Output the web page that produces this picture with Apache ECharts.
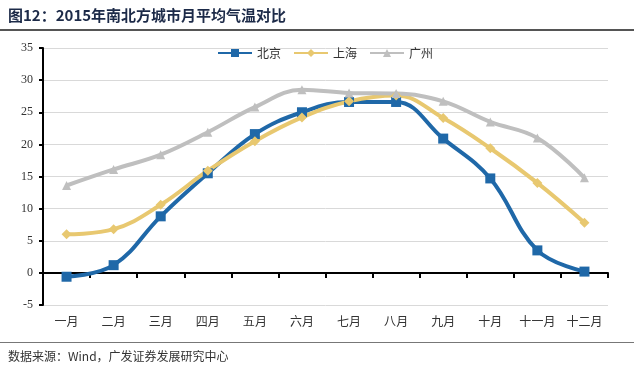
<!DOCTYPE html>
<html>
<head>
<meta charset="utf-8">
<script src="https://cdn.jsdelivr.net/npm/echarts@6/dist/echarts.min.js"></script>
<style>
  html, body { margin: 0; padding: 0; background: #fff; }
  #wrap { position: relative; width: 640px; height: 376px; }
  #title { position: absolute; left: 8px; top: 4px; font: bold 15px "Noto Sans CJK SC", sans-serif; color: #1c2a48; }
  #topLine { position: absolute; left: 0; top: 29px; width: 634px; height: 2px; background: #555; }
  #botLine { position: absolute; left: 0; top: 342px; width: 634px; height: 1px; background: #777; }
  #source { position: absolute; left: 8px; top: 347px; font: 12px "Noto Sans CJK SC", sans-serif; color: #333; }
  #chart { position: absolute; left: 0; top: 0; width: 640px; height: 376px; }
</style>
</head>
<body>
<div id="wrap">
  <div id="chart"></div>
  <div id="title">图12：2015年南北方城市月平均气温对比</div>
  <div id="topLine"></div>
  <div id="botLine"></div>
  <div id="source">数据来源：Wind，广发证券发展研究中心</div>
</div>
<script>
// 月份
const months = ['一月', '二月', '三月', '四月', '五月', '六月', '七月', '八月', '九月', '十月', '十一月', '十二月']
// 各城市月平均气温
const beijing = [-0.6, 1.2, 8.8, 15.5, 21.6, 25.0, 26.6, 26.6, 20.9, 14.7, 3.5, 0.2]
const shanghai = [6.0, 6.8, 10.6, 15.9, 20.5, 24.2, 26.7, 27.6, 24.1, 19.4, 14.0, 7.8]
const guangzhou = [13.6, 16.1, 18.4, 21.9, 25.8, 28.5, 28.0, 27.9, 26.7, 23.5, 21.0, 14.8]
// 纵轴刻度
const yTicks = [-5, 0, 5, 10, 15, 20, 25, 30, 35]

const myChart = echarts.init(document.getElementById('chart'))
const serifFont = '"Liberation Serif", "DejaVu Serif", serif'
const cjkFont = '"Noto Sans CJK SC", sans-serif'

const lineSeries = (name, data, color, symbol, size) => ({
  name: name,
  type: 'line',
  data: data,
  smooth: 0.4,
  symbol: symbol,
  symbolSize: size,
  color: color,
  lineStyle: { width: 4, color: color },
  itemStyle: { color: color }
})

const option = {
  animation: false,
  legend: {
    top: 42,
    left: 212,
    itemWidth: 34,
    itemHeight: 10,
    itemGap: 12,
    textStyle: { fontFamily: cjkFont, fontSize: 12, color: '#333' },
    data: ['北京', '上海', '广州']
  },
  grid: {
    left: 43,
    right: 32,
    top: 48,
    bottom: 71,
    containLabel: false
  },
  xAxis: [
    {
      type: 'category',
      data: months,
      position: 'bottom',
      axisLine: { show: false, onZero: false },
      axisTick: { show: false },
      axisLabel: { fontFamily: cjkFont, fontSize: 12, color: '#333', margin: 10 }
    },
    {
      type: 'category',
      data: months,
      position: 'bottom',
      axisLine: { show: true, onZero: true, lineStyle: { color: '#000', width: 2 } },
      axisTick: { show: true, length: 5, lineStyle: { color: '#000', width: 2 } },
      axisLabel: { show: false }
    }
  ],
  yAxis: {
    type: 'value',
    min: yTicks[0],
    max: yTicks[yTicks.length - 1],
    interval: 5,
    axisLine: { show: true, lineStyle: { color: '#000', width: 2 } },
    axisTick: { show: true, length: 4, lineStyle: { color: '#000', width: 2 } },
    axisLabel: { fontFamily: serifFont, fontSize: 12, color: '#333', margin: 10 },
    splitLine: { lineStyle: { color: '#d9d9d9', width: 1 } }
  },
  series: [
    lineSeries('北京', beijing, '#1f68a8', 'rect', 10),
    lineSeries('上海', shanghai, '#e8c870', 'diamond', 10),
    lineSeries('广州', guangzhou, '#bfbfbf', 'triangle', 9)
  ]
}
myChart.setOption(option)
</script>
</body>
</html>
